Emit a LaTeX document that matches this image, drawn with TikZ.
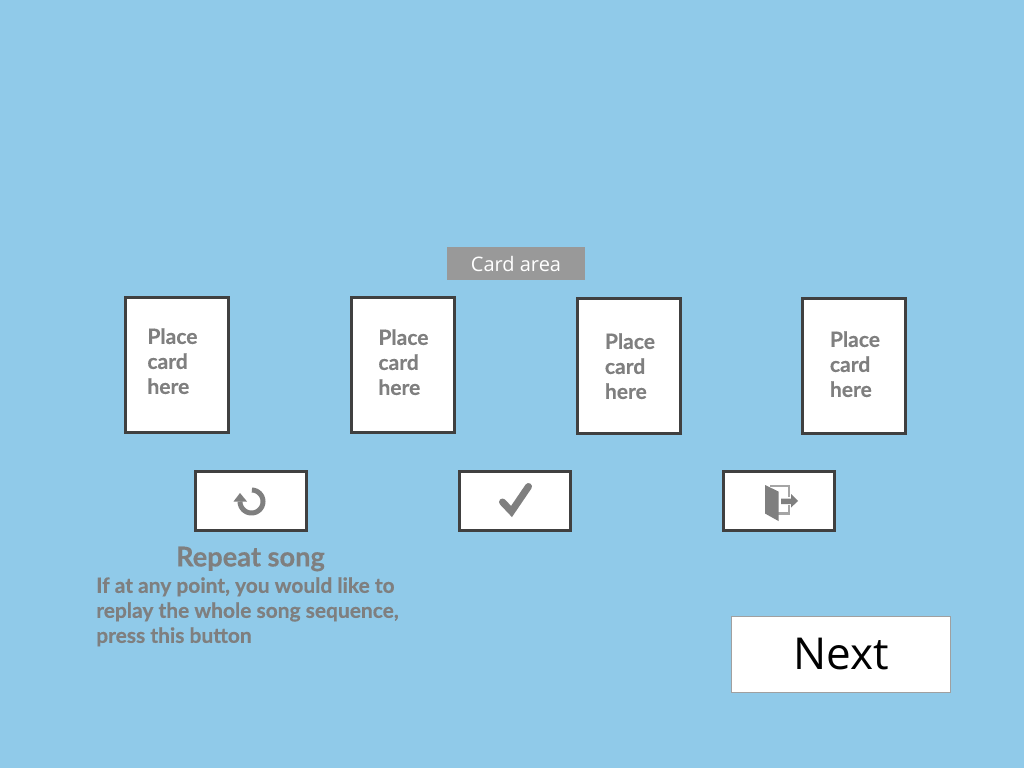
\documentclass[tikz,border=0pt]{standalone}
\usepackage{fontspec}
\setmainfont{Lato}[BoldFeatures={FakeBold=0.4}]
\newfontfamily\opensans{Open Sans}
\definecolor{bgblue}{HTML}{90CAE9}
\definecolor{inkgray}{HTML}{7F7F7F}
\definecolor{edgegray}{HTML}{404040}
\definecolor{bargray}{HTML}{999999}
\definecolor{nextedge}{HTML}{A0A0A0}
\tikzset{
  cardbox/.style={draw=edgegray,fill=white,line width=2.25pt,minimum width=77.25pt,minimum height=101.25pt,inner sep=0pt},
  cardtext/.style={text=inkgray,font=\bfseries\fontsize{15.75pt}{18.75pt}\selectfont,align=left,anchor=north west,inner sep=0pt},
  btnbox/.style={draw=edgegray,fill=white,line width=2.25pt,minimum width=83.25pt,minimum height=44.25pt,inner sep=0pt},
  icon/.style={fill=inkgray,draw=none}
}
\begin{document}
\begin{tikzpicture}[x=0.75pt,y=-0.75pt]
\useasboundingbox (0,0) rectangle (1024,768);
\fill[bgblue] (0,0) rectangle (1024,768);
\node[fill=bargray,minimum width=103.5pt,minimum height=24.75pt,inner sep=0pt,text=white,font=\opensans\fontsize{15pt}{18pt}\selectfont] (cardarea) at (516,263.5) {Card area};
\node[cardbox] (c1) at (177,364.75) {};
\node[cardbox] (c2) at (403,364.75) {};
\node[cardbox] (c3) at (629,365.75) {};
\node[cardbox] (c4) at (854,365.75) {};
\node[cardtext] (t1) at (147.2,328) {Place\\card\\here};
\node[cardtext] (t2) at (378.2,329) {Place\\card\\here};
\node[cardtext] (t3) at (604.7,333) {Place\\card\\here};
\node[cardtext] (t4) at (829.7,331) {Place\\card\\here};
\node[btnbox] (b1) at (251,500.75) {};
\node[btnbox] (b2) at (515,500.75) {};
\node[btnbox] (b3) at (779,500.75) {};
% repeat icon
\draw[inkgray,line width=3.75pt] plot[smooth,domain=88:-180,samples=50] ({251.5+11.5*cos(\x)},{501.5-11.5*sin(\x)});
\fill[icon] (233.5,501.5) -- (240,493) -- (247,501.5) -- cycle;
% check icon
\draw[inkgray,line width=5.25pt,line cap=round,line join=miter] (502.5,502) -- (511.5,511.5) -- (528.5,486.5);
% door icon
\draw[inkgray!70,line width=1.75pt] (770,486) -- (789,486) -- (789,497);
\draw[inkgray!70,line width=1.75pt] (778,513.5) -- (789,513.5) -- (789,505);
\fill[icon] (765,485) -- (778.5,491.5) -- (778.5,521) -- (765,513.5) -- cycle;
\fill[icon] (781,498.5) -- (791,498.5) -- (791,494) -- (798,501) -- (791,507.5) -- (791,504) -- (781,504) -- cycle;
\node[text=inkgray,font=\bfseries\fontsize{20.4pt}{24pt}\selectfont,inner sep=0pt] (rs) at (250.5,559) {Repeat song};
\node[text=inkgray,font=\bfseries\fontsize{15.7pt}{18.75pt}\selectfont,align=left,anchor=north west,inner sep=0pt] (rp) at (96,577) {If at any point, you would like to\\replay the whole song sequence,\\press this button};
\node[draw=nextedge,fill=white,line width=0.75pt,minimum width=164.25pt,minimum height=57pt,inner sep=0pt,font=\opensans\fontsize{33pt}{38pt}\selectfont,text=black] (next) at (841,654) {Next};
\end{tikzpicture}
\end{document}
